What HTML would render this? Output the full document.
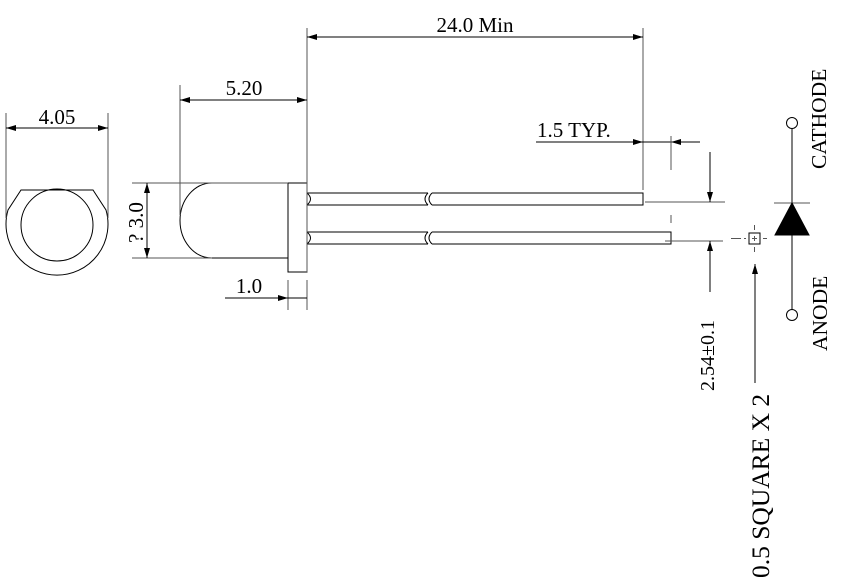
<!DOCTYPE html>
<html><head><meta charset="utf-8"><style>html,body{margin:0;padding:0;background:#fff}svg{display:block}</style></head><body>
<svg width="847" height="586" viewBox="0 0 847 586" xmlns="http://www.w3.org/2000/svg" font-family="Liberation Serif, serif" fill="none" stroke="#000" stroke-width="1">
<defs>
<marker id="a" viewBox="0 0 10 6" refX="10" refY="3" markerWidth="14" markerHeight="6" markerUnits="userSpaceOnUse" orient="auto-start-reverse"><path d="M0,0 L10,3 L0,6 Z" fill="#000" stroke="none"/></marker>
</defs>
<!-- front view -->
<path d="M21,190 L93,190 L106,210 A51,51 0 1 1 8,210 Z"/>
<circle cx="57" cy="225" r="36"/>
<line x1="6" y1="113" x2="6" y2="218" stroke="#555"/>
<line x1="108" y1="113" x2="108" y2="218" stroke="#555"/>
<line x1="6" y1="128" x2="108" y2="128" marker-start="url(#a)" marker-end="url(#a)"/>
<text x="57" y="124" font-size="21" fill="#000" stroke="none" text-anchor="middle">4.05</text>
<!-- body -->
<path d="M212,183 L288,183 L288,258 L212,258 A32,37.5 0 0 1 212,183 Z"/>
<rect x="288" y="183" width="19" height="89"/>
<!-- leads -->
<path d="M307,193 L428,193 M307,205 L428,205 M307,193 Q314,199 307,205 M432,193 L643,193 L643,205 L432,205 M428,193 Q422,199 428,205 M432,193 Q426,199 432,205"/>
<path d="M307,232 L428,232 M307,244 L428,244 M307,232 Q314,238 307,244 M432,232 L671,232 L671,244 L432,244 M428,232 Q422,238 428,244 M432,232 Q426,238 432,244"/>
<!-- 3.0 -->
<line x1="132" y1="183" x2="288" y2="183" stroke="#555"/>
<line x1="132" y1="258" x2="212" y2="258" stroke="#555"/>
<line x1="147" y1="183" x2="147" y2="258" marker-start="url(#a)" marker-end="url(#a)"/>
<text transform="translate(143,243) rotate(-90)" font-size="21" fill="#000" stroke="none">? 3.0</text>
<!-- 5.20 -->
<line x1="180" y1="85" x2="180" y2="215" stroke="#555"/>
<line x1="307" y1="28" x2="307" y2="272" stroke="#555"/>
<line x1="180" y1="100" x2="307" y2="100" marker-start="url(#a)" marker-end="url(#a)"/>
<text x="244" y="95" font-size="21" fill="#000" stroke="none" text-anchor="middle">5.20</text>
<!-- 24.0 -->
<line x1="643" y1="28" x2="643" y2="190" stroke="#555"/>
<line x1="307" y1="37" x2="643" y2="37" marker-start="url(#a)" marker-end="url(#a)"/>
<text x="475" y="32" font-size="21" fill="#000" stroke="none" text-anchor="middle">24.0 Min</text>
<!-- 1.0 -->
<line x1="288" y1="280" x2="288" y2="310" stroke="#555"/>
<line x1="307" y1="280" x2="307" y2="310" stroke="#555"/>
<line x1="225" y1="298" x2="288" y2="298" marker-end="url(#a)"/>
<line x1="288" y1="298" x2="307" y2="298"/>
<text x="249" y="293" font-size="21" fill="#000" stroke="none" text-anchor="middle">1.0</text>
<!-- 1.5 TYP -->
<line x1="536" y1="142" x2="643" y2="142" marker-end="url(#a)"/>
<line x1="643" y1="142" x2="671" y2="142"/>
<line x1="700" y1="142" x2="671" y2="142" marker-end="url(#a)"/>
<line x1="671" y1="136" x2="671" y2="170" stroke="#555"/>
<line x1="671" y1="215" x2="671" y2="223" stroke="#555"/>
<text x="537" y="137" font-size="21" fill="#000" stroke="none">1.5 TYP.</text>
<!-- 2.54 -->
<line x1="645" y1="202" x2="725" y2="202" stroke="#555"/>
<line x1="665" y1="241" x2="723" y2="241" stroke="#555"/>
<line x1="710" y1="152" x2="710" y2="202" marker-end="url(#a)"/>
<line x1="710" y1="292" x2="710" y2="241" marker-end="url(#a)"/>
<text transform="translate(714,391) rotate(-90)" font-size="20" fill="#000" stroke="none">2.54±0.1</text>
<!-- square -->
<rect x="749" y="233" width="11" height="11"/>
<path d="M731,238.5 H741 M744,238.5 H746 M763,238.5 H767 M754.5,225 V230 M754.5,247 V252" stroke="#555"/>
<path d="M752,238.5 H757 M754.5,236 V241" stroke="#555"/>
<line x1="755" y1="383" x2="755" y2="264" marker-end="url(#a)"/>
<text transform="translate(769,578) rotate(-90)" font-size="25.5" fill="#000" stroke="none">0.5 SQUARE X 2</text>
<!-- diode -->
<circle cx="792" cy="123" r="5.5"/>
<line x1="792" y1="128.5" x2="792" y2="203"/>
<line x1="774" y1="203" x2="810" y2="203" stroke="#555"/>
<path d="M792,203 L775,235 L809,235 Z" fill="#000"/>
<line x1="792" y1="235" x2="792" y2="310"/>
<circle cx="792" cy="315" r="5.5"/>
<text transform="translate(826,169) rotate(-90)" font-size="21.5" fill="#000" stroke="none">CATHODE</text>
<text transform="translate(827,351) rotate(-90)" font-size="21.5" fill="#000" stroke="none">ANODE</text>
</svg>
</body></html>
